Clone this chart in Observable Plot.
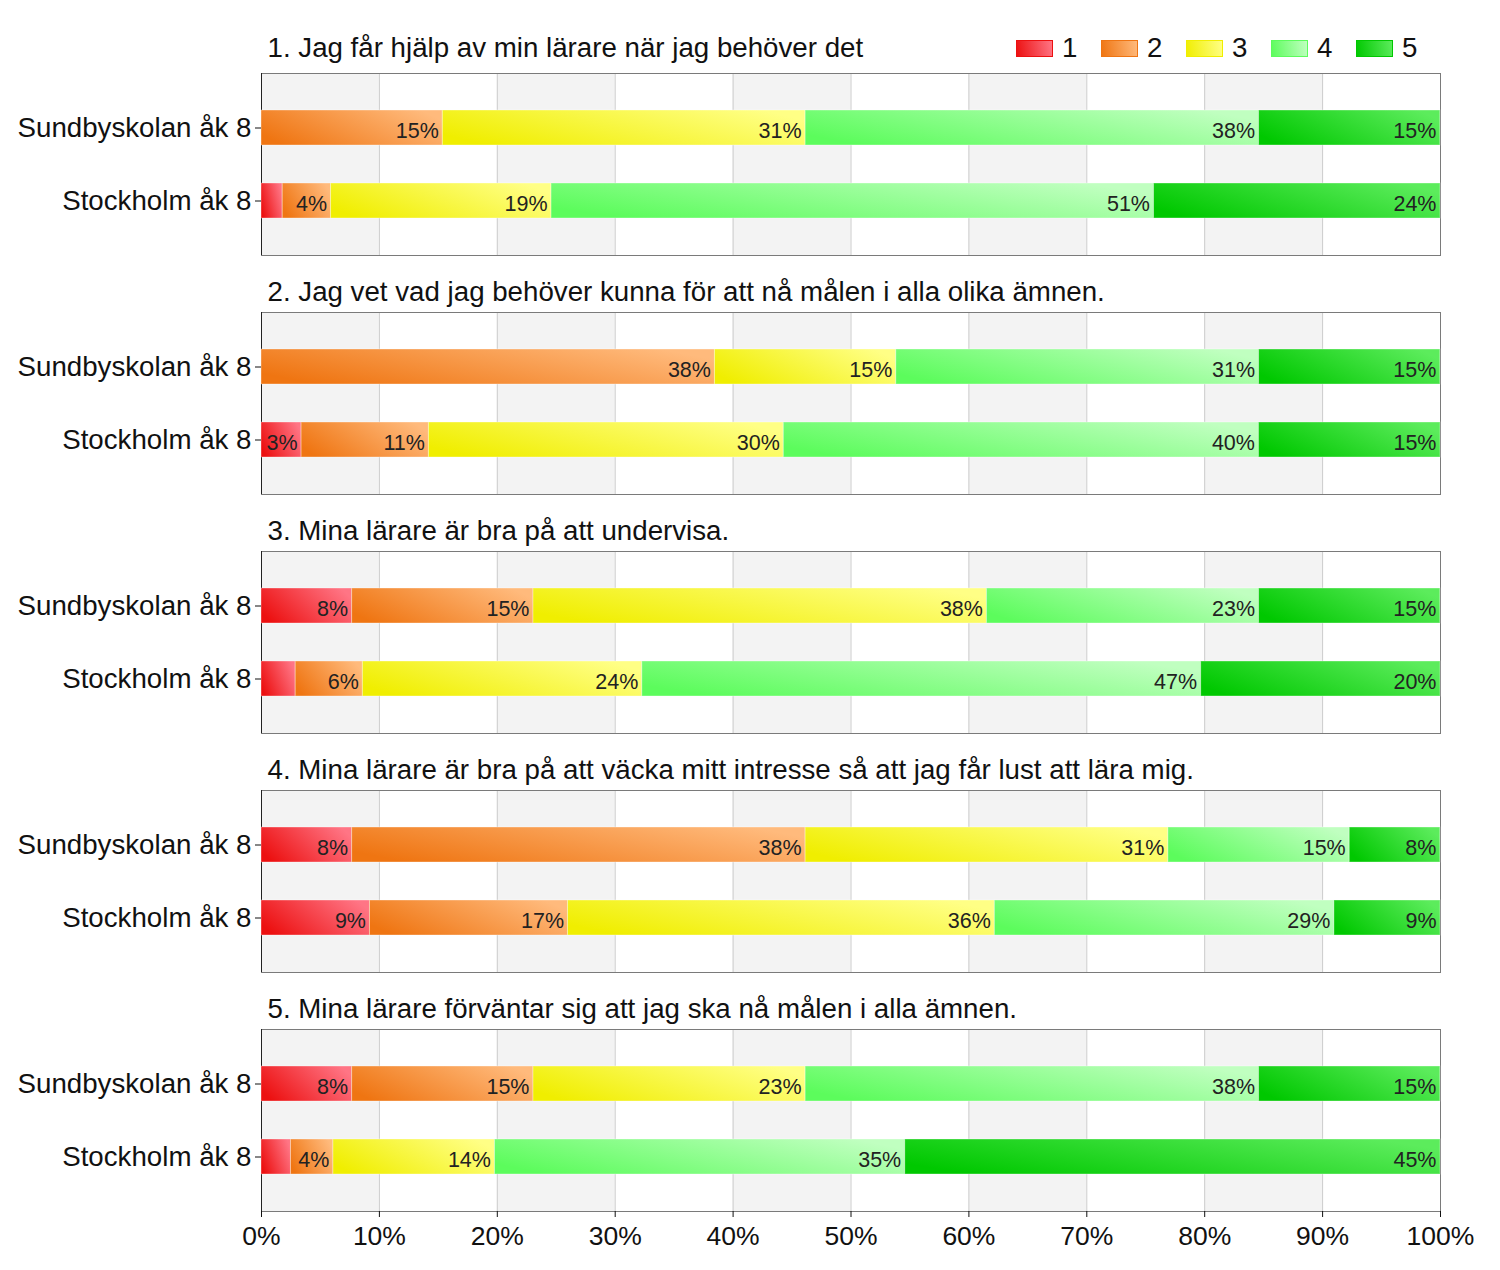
<!DOCTYPE html>
<html>
<head>
<meta charset="utf-8">
<script src="https://cdn.jsdelivr.net/npm/d3@7"></script>
<script src="https://cdn.jsdelivr.net/npm/@observablehq/plot@0.6"></script>
<style>
  body { margin: 0; background: white; font-family: "Liberation Sans", Arial, sans-serif; }
  #wrap { position: relative; width: 1500px; height: 1270px; }
  #legend { position: absolute; top: 32px; left: 1016px; display: flex; font-size: 27.7px; color: #111; }
  #legend .item { width: 85px; display: flex; align-items: center; }
  #legend .sw { width: 37px; height: 17px; margin-right: 9px; box-sizing: border-box; }
</style>
</head>
<body>
<svg width="0" height="0" style="position:absolute"><defs id="grads"></defs></svg>
<div id="wrap"><div id="legend"></div></div>
<script>
// ---- data ----
const groups = ["Sundbyskolan åk 8", "Stockholm åk 8"];
const levels = [1, 2, 3, 4, 5];
const questionIds = [1, 2, 3, 4, 5];
const titles = [
  "1. Jag får hjälp av min lärare när jag behöver det",
  "2. Jag vet vad jag behöver kunna för att nå målen i alla olika ämnen.",
  "3. Mina lärare är bra på att undervisa.",
  "4. Mina lärare är bra på att väcka mitt intresse så att jag får lust att lära mig.",
  "5. Mina lärare förväntar sig att jag ska nå målen i alla ämnen."
];
// percent per level 1..5
const sundbyskolan = [
  [0, 15.38, 30.77, 38.46, 15.38],
  [0, 38.46, 15.38, 30.77, 15.38],
  [7.69, 15.38, 38.46, 23.08, 15.38],
  [7.69, 38.46, 30.77, 15.38, 7.69],
  [7.69, 15.38, 23.08, 38.46, 15.38]
];
const stockholm = [
  [1.8, 4.1, 18.7, 51.1, 24.3],
  [3.4, 10.8, 30.1, 40.3, 15.4],
  [2.9, 5.7, 23.7, 47.4, 20.3],
  [9.2, 16.8, 36.2, 28.8, 9.0],
  [2.5, 3.6, 13.7, 34.8, 45.4]
];
const xTicks = [0, 10, 20, 30, 40, 50, 60, 70, 80, 90, 100];
const gridTicks = [10, 20, 30, 40, 50, 60, 70, 80, 90];
const shadedBands = [0, 20, 40, 60, 80];
const baseColors = ["#ec1010", "#ef7512", "#f0ee00", "#5cfc5c", "#00c800"];
const lightColors = ["#ff7585", "#ffba7c", "#ffff85", "#c0ffc0", "#5cec5c"];

// ---- gradients ----
const defs = document.getElementById("grads");
defs.innerHTML = levels.map((l, i) => `
  <linearGradient id="g${l}" x1="0" y1="0.7" x2="1" y2="0.3">
    <stop offset="0" stop-color="${baseColors[i]}"/>
    <stop offset="1" stop-color="${lightColors[i]}"/>
  </linearGradient>`).join("");
const gradUrls = levels.map(l => `url(#g${l})`);

// ---- table ----
const rows = [];
questionIds.forEach((q, qi) => {
  [sundbyskolan[qi], stockholm[qi]].forEach((vals, gi) => {
    vals.forEach((v, li) => rows.push({q, group: groups[gi], level: levels[li], value: v}));
  });
});

const font = "'Liberation Sans', Arial, sans-serif";
const chart = Plot.plot({
  width: 1500,
  height: 1270,
  marginTop: 73,
  marginBottom: 58,
  marginLeft: 261,
  marginRight: 60,
  style: {fontFamily: font, background: "transparent", overflow: "visible"},
  x: {domain: [0, 100]},
  y: {domain: groups, paddingInner: 0.52, paddingOuter: 0.5},
  fy: {domain: questionIds, paddingInner: 0.238, paddingOuter: 0, axis: null},
  color: {type: "ordinal", domain: levels, range: gradUrls},
  marks: [
    Plot.rect(shadedBands, {x1: d => d, x2: d => d + 10, fill: "#f3f3f3"}),
    Plot.ruleX(gridTicks, {stroke: "#cccccc"}),
    Plot.frame({stroke: "#7a7a7a"}),
    Plot.ruleX([0], {stroke: "#222"}),
    Plot.barX(rows, Plot.stackX({x: "value", y: "group", fy: "q", fill: "level", stroke: "white", strokeOpacity: 0.35})),
    Plot.text(rows, Plot.stackX2({
      x: "value", y: "group", fy: "q",
      text: d => d.value >= 3 ? Math.round(d.value) + "%" : "",
      textAnchor: "end", dx: -4, dy: 3, fontSize: 21.5, fill: "#222"
    })),
    Plot.text(questionIds.filter(d => d === 1), {
      fy: d => d, text: d => titles[d - 1],
      frameAnchor: "top-left", textAnchor: "start", lineAnchor: "middle",
      dx: 6, dy: -25, fontSize: 27.7, fill: "#111"
    }),
    Plot.text(questionIds.filter(d => d !== 1), {
      fy: d => d, text: d => titles[d - 1],
      frameAnchor: "top-left", textAnchor: "start", lineAnchor: "middle",
      dx: 6, dy: -20, fontSize: 27.7, fill: "#111"
    }),
    Plot.axisY({fontSize: 27.7, tickSize: 6, tickPadding: 4, label: null, color: "#111"}),
    Plot.axisX({ticks: xTicks, tickFormat: d => d + "%", fontSize: 26.5, tickSize: 6, tickPadding: 9, label: null, color: "#111"})
  ]
});
chart.style.position = "absolute";
chart.style.left = "0";
chart.style.top = "0";
document.getElementById("wrap").prepend(chart);

// ---- legend ----
const legend = document.getElementById("legend");
levels.forEach((l, i) => {
  const item = document.createElement("div");
  item.className = "item";
  const sw = document.createElement("div");
  sw.className = "sw";
  sw.style.background = `linear-gradient(80deg, ${baseColors[i]}, ${lightColors[i]})`;
  sw.style.border = `1px solid ${baseColors[i]}`;
  const t = document.createElement("span");
  t.textContent = l;
  item.append(sw, t);
  legend.append(item);
});
</script>
</body>
</html>
